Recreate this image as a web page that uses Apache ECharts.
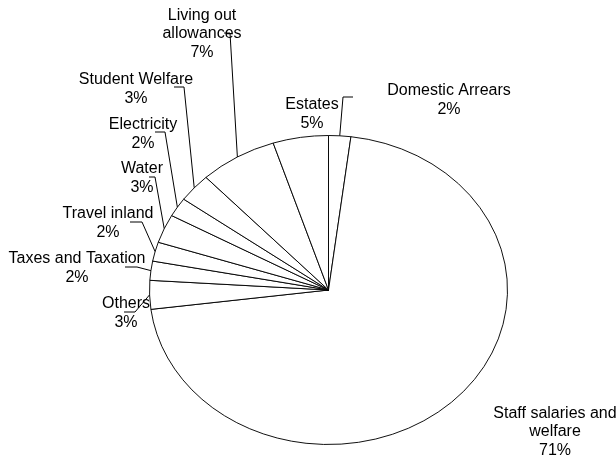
<!DOCTYPE html>
<html>
<head>
<meta charset="utf-8">
<script src="https://cdn.jsdelivr.net/npm/echarts@6/dist/echarts.min.js"></script>
<style>
  html, body { margin: 0; padding: 0; background: #ffffff; }
  #chart { width: 616px; height: 460px; }
</style>
</head>
<body>
<div id="chart"></div>
<script>
// slices, clockwise from 12 o'clock
var categories = ['Domestic Arrears', 'Staff salaries and welfare', 'Others', 'Taxes and Taxation',
  'Travel inland', 'Water', 'Electricity', 'Student Welfare', 'Living out allowances', 'Estates'];
var shares = [2, 71, 3, 2, 2, 3, 2, 3, 7, 5];

// label placement (block centre) and leader line bend points, one per slice
var labelPos = [[449, 100], [555, 432], [126, 313], [77, 268], [108, 223],
  [142, 178], [143, 134], [136, 89], [202, 34], [312, 114]];
var leaderBends = [
  [[343, 97], [353, 97]],
  null,
  [[135, 312], [124, 312]],
  [[137, 267], [125, 267]],
  [[142, 222], [130, 222]],
  [[155, 177], [149, 177]],
  [[165, 132], [155, 132]],
  [[184, 87], [174, 87]],
  [[230, 33], [224, 33]],
  null
];

var cx = 328.5, cy = 290, rx = 179, ry = 154.5;

var total = 0;
var starts = [];
shares.forEach(function (v) { starts.push(total); total += v; });

// greedy word wrap for the long names
function wrapName(name, maxChars) {
  var words = name.split(' ');
  var lines = [];
  var cur = '';
  words.forEach(function (w) {
    if (cur && (cur + ' ' + w).length > maxChars) {
      lines.push(cur);
      cur = w;
    } else {
      cur = cur ? cur + ' ' + w : w;
    }
  });
  lines.push(cur);
  return lines.join('\n');
}

var chart = echarts.init(document.getElementById('chart'));

function renderSlice(params, api) {
  var i = params.dataIndex;
  var v = api.value(0);
  var a0 = -Math.PI / 2 + starts[i] / total * Math.PI * 2;
  var a1 = a0 + v / total * Math.PI * 2;
  var mid = (a0 + a1) / 2;
  var children = [{
    type: 'sector',
    x: cx,
    y: cy,
    scaleY: ry / rx,
    shape: { cx: 0, cy: 0, r0: 0, r: rx, startAngle: a0, endAngle: a1, clockwise: true },
    style: { fill: '#ffffff', stroke: '#000000', lineWidth: 1, strokeNoScale: true }
  }];
  if (leaderBends[i]) {
    var pts = [[cx + rx * Math.cos(mid), cy + ry * Math.sin(mid)]].concat(leaderBends[i]);
    children.push({
      type: 'polyline',
      shape: { points: pts },
      style: { fill: null, stroke: '#000000', lineWidth: 1 }
    });
  }
  children.push({
    type: 'text',
    x: labelPos[i][0],
    y: labelPos[i][1],
    style: {
      text: wrapName(categories[i], 18) + '\n' + Math.round(v / total * 100) + '%',
      fill: '#000000',
      fontSize: 16,
      fontFamily: 'Liberation Sans, Arial, sans-serif',
      align: 'center',
      verticalAlign: 'middle',
      lineHeight: 18.5
    }
  });
  return { type: 'group', children: children };
}

chart.setOption({
  backgroundColor: '#ffffff',
  animation: false,
  series: [{
    type: 'custom',
    coordinateSystem: 'none',
    renderItem: renderSlice,
    data: shares.map(function (v, i) { return { name: categories[i], value: [v] }; })
  }]
});

window.addEventListener('resize', function () { chart.resize(); });
</script>
</body>
</html>
